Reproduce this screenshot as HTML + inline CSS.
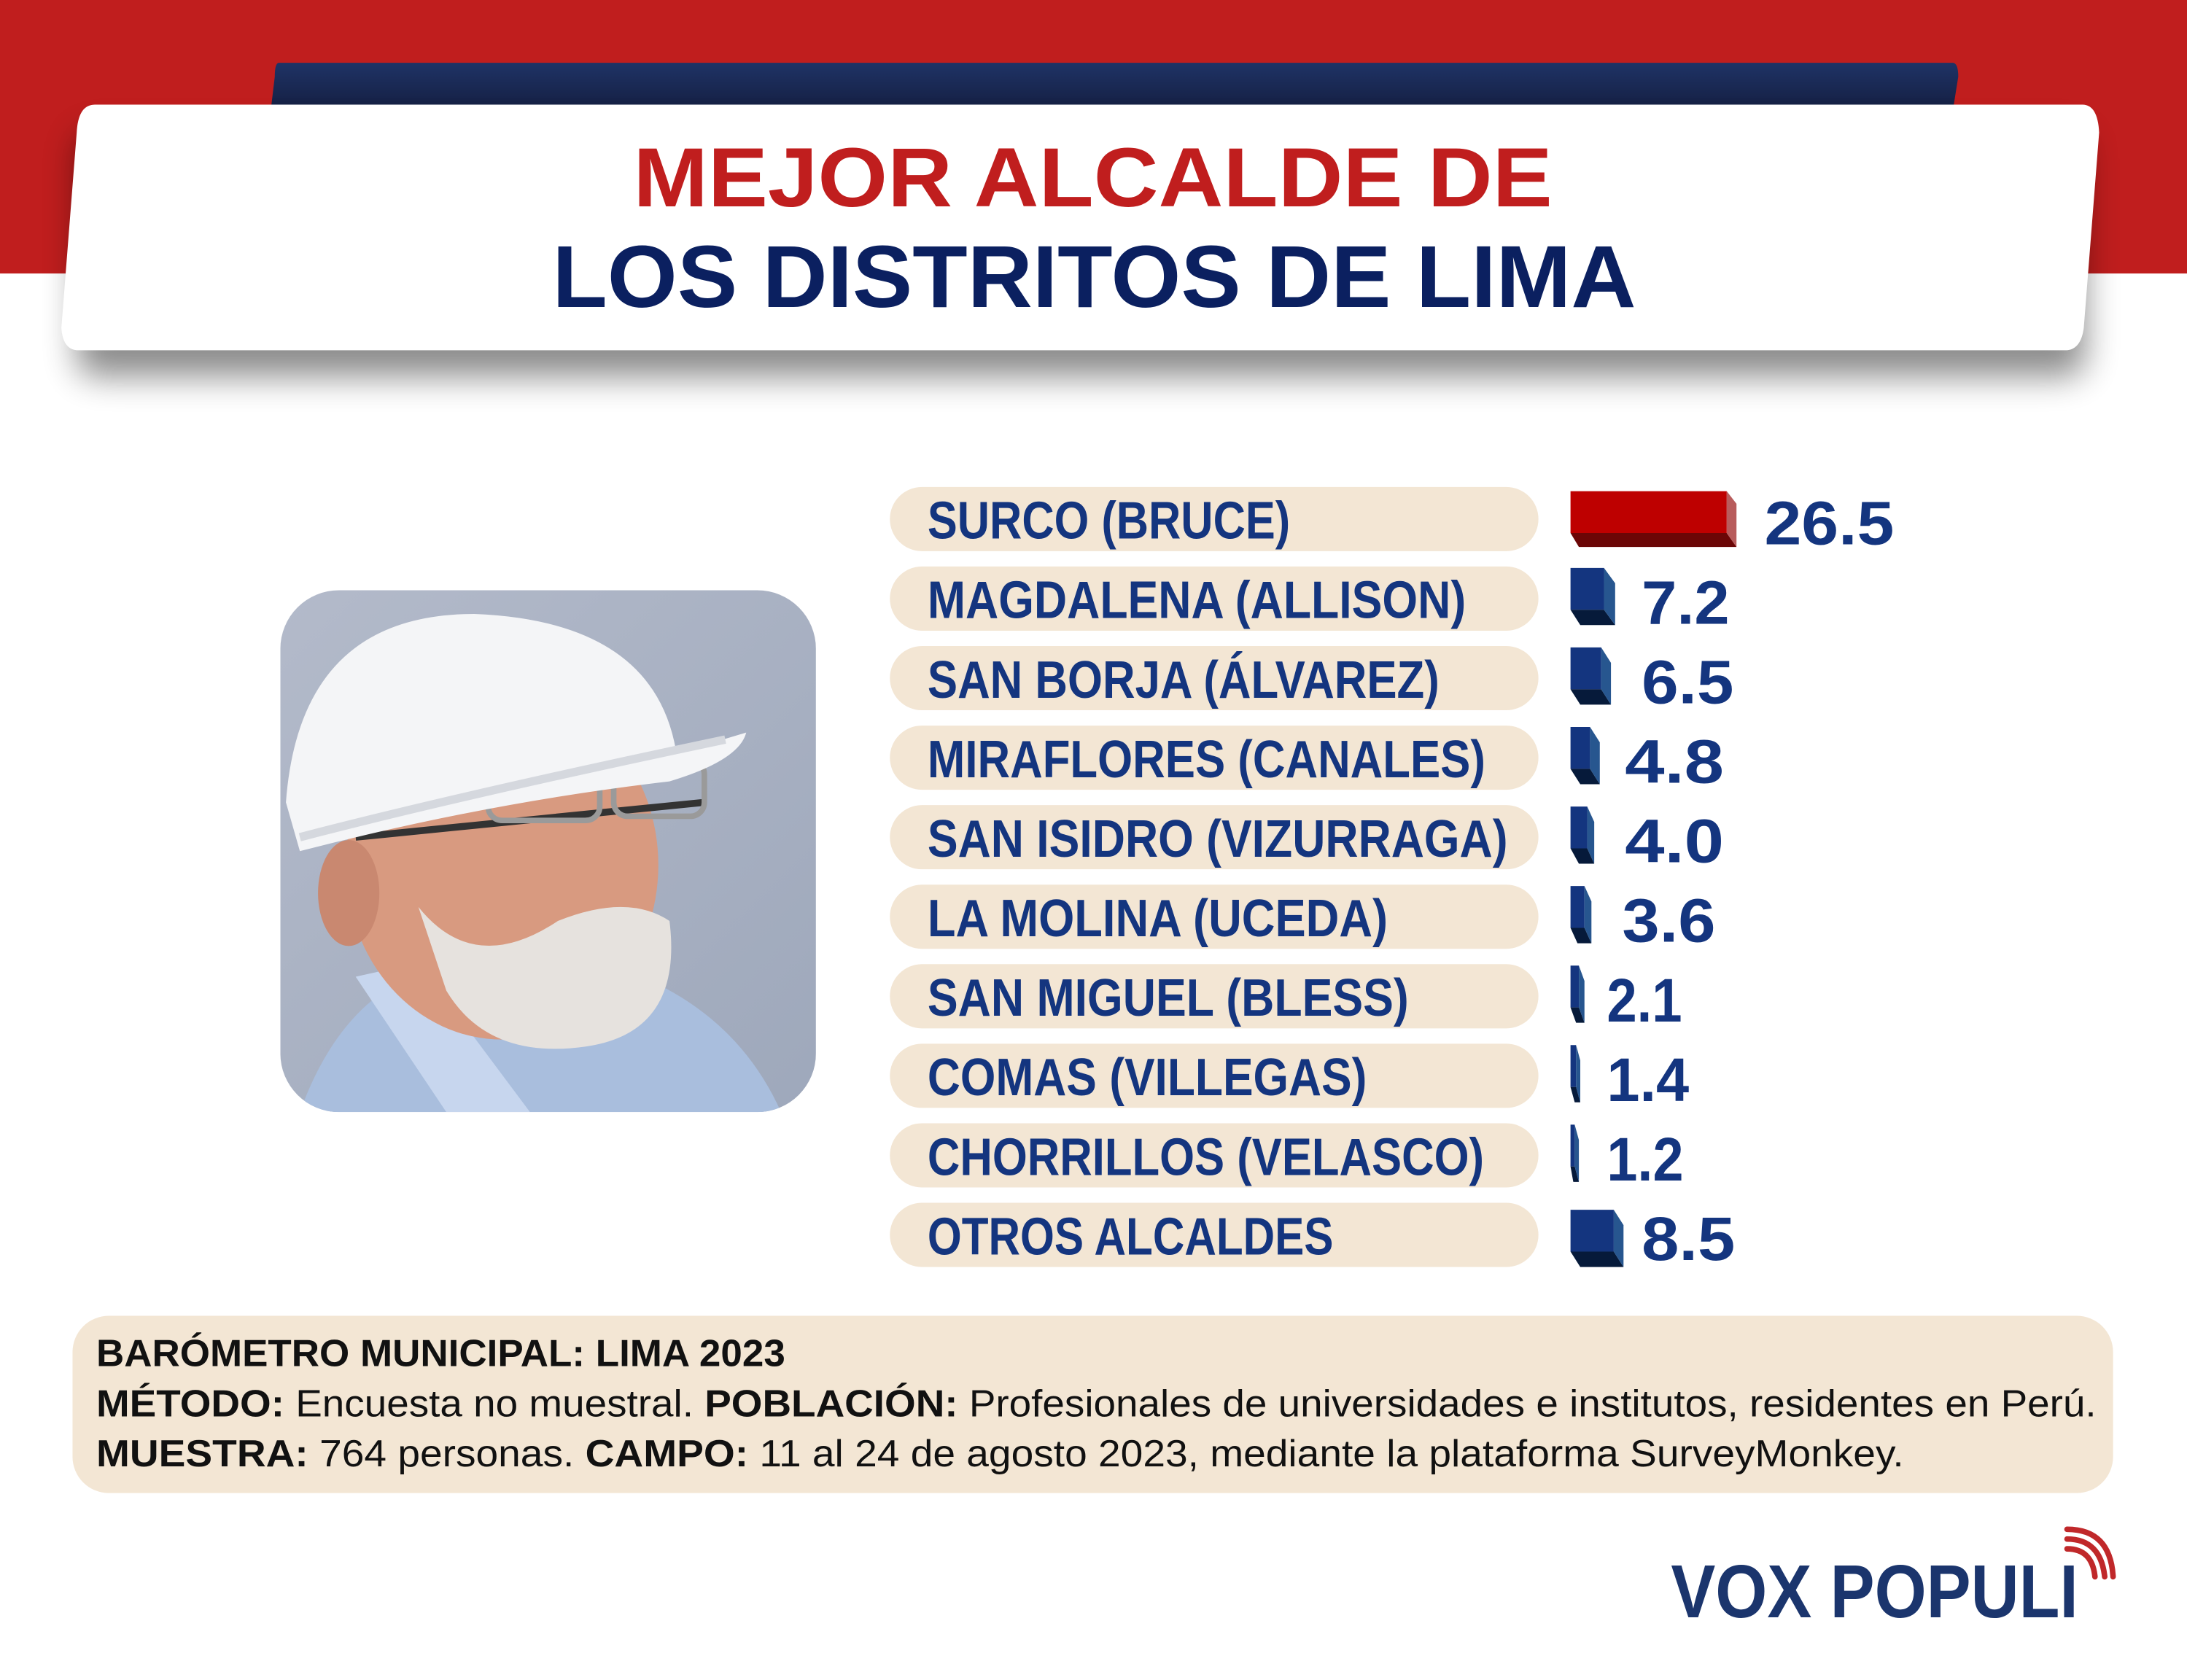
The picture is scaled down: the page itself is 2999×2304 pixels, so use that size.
<!DOCTYPE html>
<html><head><meta charset="utf-8"><style>
html,body{margin:0;padding:0;background:#fff;}
svg{display:block;}
</style></head><body>
<svg width="2999" height="2304" viewBox="0 0 1568 1204" preserveAspectRatio="none" xmlns="http://www.w3.org/2000/svg">
<defs>
<filter id="sh" x="-10%" y="-30%" width="120%" height="180%"><feGaussianBlur stdDeviation="12"/></filter>
<linearGradient id="bg" x1="0" y1="0" x2="1" y2="1"><stop offset="0" stop-color="#B3BACA"/><stop offset="1" stop-color="#9EA8BB"/></linearGradient>
<clipPath id="pc"><rect x="201" y="423" width="384" height="374" rx="42"/></clipPath>
<linearGradient id="tab" x1="0" y1="0" x2="0" y2="1"><stop offset="0" stop-color="#1F3366"/><stop offset="1" stop-color="#141E40"/></linearGradient>
</defs>
<rect width="1568" height="1204" fill="#fff"/>
<rect width="1568" height="196" fill="#C01E1E"/>
<!-- navy tab -->
<path d="M200 45 H1400 Q1404 45 1404 55 L1400 80 H194 L197 55 Q197 45 200 45Z" fill="url(#tab)"/>
<!-- shadow -->
<rect x="55" y="95" width="1440" height="175" rx="14" fill="#000" opacity="0.45" filter="url(#sh)"/>
<!-- white card -->
<path d="M68 75 H1493 Q1504 75 1505 95 L1494 235 Q1492 250 1482 251 H55 Q45 250 44 235 L55 95 Q56 75 68 75Z" fill="#fff"/>
<text x="454" y="148" font-family="Liberation Sans, sans-serif" font-weight="bold" font-size="60" fill="#C01E1E" textLength="659" lengthAdjust="spacingAndGlyphs">MEJOR ALCALDE DE</text>
<text x="396" y="220" font-family="Liberation Sans, sans-serif" font-weight="bold" font-size="63" fill="#0B2060" textLength="777" lengthAdjust="spacingAndGlyphs">LOS DISTRITOS DE LIMA</text>

<!-- photo -->
<g clip-path="url(#pc)">
<rect x="201" y="423" width="384" height="374" fill="url(#bg)"/>
<path d="M215 797 Q250 700 330 690 L460 700 Q530 730 560 797Z" fill="#A9BEDD"/>
<path d="M255 700 L320 797 L380 797 L300 690Z" fill="#C7D6EE"/>
<ellipse cx="360" cy="620" rx="112" ry="125" fill="#D89A80"/>
<ellipse cx="250" cy="640" rx="22" ry="38" fill="#C98870"/>
<path d="M300 650 Q340 700 400 660 Q450 640 480 660 Q490 740 420 750 Q350 760 320 710Z" fill="#E6E2DE"/>
<path d="M255 600 L505 575" stroke="#333" stroke-width="5"/>
<rect x="350" y="548" width="80" height="40" rx="10" fill="none" stroke="#9a9a9a" stroke-width="4"/>
<rect x="440" y="545" width="65" height="40" rx="10" fill="none" stroke="#9a9a9a" stroke-width="4"/>
<path d="M205 575 Q215 440 340 440 Q470 445 485 540 L535 525 Q530 545 480 560 Q350 575 215 610Z" fill="#F4F5F7"/>
<path d="M215 600 Q330 570 520 530" stroke="#D5D8DE" stroke-width="6" fill="none"/>
</g>

<!-- rows -->
<g font-family="Liberation Sans Narrow, Liberation Sans, sans-serif" font-weight="bold" font-size="38" fill="#14357F">
<rect x="638" y="349" width="465" height="46" rx="23" fill="#F3E6D4"/>
<text x="665" y="386" textLength="260" lengthAdjust="spacingAndGlyphs">SURCO (BRUCE)</text>
<rect x="638" y="406" width="465" height="46" rx="23" fill="#F3E6D4"/>
<text x="665" y="443" textLength="386" lengthAdjust="spacingAndGlyphs">MAGDALENA (ALLISON)</text>
<rect x="638" y="463" width="465" height="46" rx="23" fill="#F3E6D4"/>
<text x="665" y="500" textLength="367" lengthAdjust="spacingAndGlyphs">SAN BORJA (ÁLVAREZ)</text>
<rect x="638" y="520" width="465" height="46" rx="23" fill="#F3E6D4"/>
<text x="665" y="557" textLength="400" lengthAdjust="spacingAndGlyphs">MIRAFLORES (CANALES)</text>
<rect x="638" y="577" width="465" height="46" rx="23" fill="#F3E6D4"/>
<text x="665" y="614" textLength="416" lengthAdjust="spacingAndGlyphs">SAN ISIDRO (VIZURRAGA)</text>
<rect x="638" y="634" width="465" height="46" rx="23" fill="#F3E6D4"/>
<text x="665" y="671" textLength="330" lengthAdjust="spacingAndGlyphs">LA MOLINA (UCEDA)</text>
<rect x="638" y="691" width="465" height="46" rx="23" fill="#F3E6D4"/>
<text x="665" y="728" textLength="345" lengthAdjust="spacingAndGlyphs">SAN MIGUEL (BLESS)</text>
<rect x="638" y="748" width="465" height="46" rx="23" fill="#F3E6D4"/>
<text x="665" y="785" textLength="315" lengthAdjust="spacingAndGlyphs">COMAS (VILLEGAS)</text>
<rect x="638" y="805" width="465" height="46" rx="23" fill="#F3E6D4"/>
<text x="665" y="842" textLength="399" lengthAdjust="spacingAndGlyphs">CHORRILLOS (VELASCO)</text>
<rect x="638" y="862" width="465" height="46" rx="23" fill="#F3E6D4"/>
<text x="665" y="899" textLength="291" lengthAdjust="spacingAndGlyphs">OTROS ALCALDES</text>
</g>

<!-- bars -->
<g>
<polygon points="1126,352 1238,352 1238,382 1126,382" fill="#BE0000"/>
<polygon points="1126,382 1238,382 1245,392 1132,392" fill="#6B0606"/>
<polygon points="1238,352 1245,361 1245,392 1238,382" fill="#B85C5C"/>

<polygon points="1126,407 1150,407 1150,437 1126,437" fill="#14357F"/>
<polygon points="1126,437 1150,437 1158,448 1133,448" fill="#061A3A"/>
<polygon points="1150,407 1158,418 1158,448 1150,437" fill="#27568F"/>

<polygon points="1126,464 1148,464 1148,494 1126,494" fill="#14357F"/>
<polygon points="1126,494 1148,494 1155,505 1133,505" fill="#061A3A"/>
<polygon points="1148,464 1155,475 1155,505 1148,494" fill="#27568F"/>

<polygon points="1126,521 1140,521 1140,551 1126,551" fill="#14357F"/>
<polygon points="1126,551 1140,551 1147,562 1133,562" fill="#061A3A"/>
<polygon points="1140,521 1147,532 1147,562 1140,551" fill="#27568F"/>

<polygon points="1126,578 1138,578 1138,608 1126,608" fill="#14357F"/>
<polygon points="1126,608 1138,608 1143,619 1132,619" fill="#061A3A"/>
<polygon points="1138,578 1143,589 1143,619 1138,608" fill="#27568F"/>

<polygon points="1126,635 1136,635 1136,665 1126,665" fill="#14357F"/>
<polygon points="1126,665 1136,665 1141,676 1131,676" fill="#061A3A"/>
<polygon points="1136,635 1141,646 1141,676 1136,665" fill="#27568F"/>

<polygon points="1126,692 1132,692 1132,722 1126,722" fill="#14357F"/>
<polygon points="1126,722 1132,722 1136,733 1130,733" fill="#061A3A"/>
<polygon points="1132,692 1136,703 1136,733 1132,722" fill="#27568F"/>

<polygon points="1126,749 1130,749 1130,779 1126,779" fill="#14357F"/>
<polygon points="1126,779 1130,779 1133,790 1129,790" fill="#061A3A"/>
<polygon points="1130,749 1133,760 1133,790 1130,779" fill="#27568F"/>

<polygon points="1126,806 1129,806 1129,836 1126,836" fill="#14357F"/>
<polygon points="1126,836 1129,836 1132,847 1128,847" fill="#061A3A"/>
<polygon points="1129,806 1132,817 1132,847 1129,836" fill="#27568F"/>

<polygon points="1126,867 1157,867 1157,897 1126,897" fill="#14357F"/>
<polygon points="1126,897 1157,897 1164,908 1133,908" fill="#061A3A"/>
<polygon points="1157,867 1164,878 1164,908 1157,897" fill="#27568F"/>
</g>

<!-- numbers -->
<g font-family="Liberation Sans, sans-serif" font-weight="bold" font-size="44" fill="#14357F">
<text x="1265" y="390" textLength="93" lengthAdjust="spacingAndGlyphs">26.5</text>
<text x="1177" y="447" textLength="63" lengthAdjust="spacingAndGlyphs">7.2</text>
<text x="1177" y="504" textLength="66" lengthAdjust="spacingAndGlyphs">6.5</text>
<text x="1165" y="561" textLength="71" lengthAdjust="spacingAndGlyphs">4.8</text>
<text x="1165" y="618" textLength="71" lengthAdjust="spacingAndGlyphs">4.0</text>
<text x="1163" y="675" textLength="67" lengthAdjust="spacingAndGlyphs">3.6</text>
<text x="1152" y="732" textLength="54" lengthAdjust="spacingAndGlyphs">2.1</text>
<text x="1152" y="789" textLength="59" lengthAdjust="spacingAndGlyphs">1.4</text>
<text x="1152" y="846" textLength="55" lengthAdjust="spacingAndGlyphs">1.2</text>
<text x="1177" y="903" textLength="67" lengthAdjust="spacingAndGlyphs">8.5</text>
</g>

<!-- footer -->
<rect x="52" y="943" width="1463" height="127" rx="26" fill="#F3E6D4"/>
<g font-family="Liberation Sans, sans-serif" font-size="27" fill="#111">
<text x="69" y="979" font-weight="bold" textLength="494" lengthAdjust="spacingAndGlyphs">BARÓMETRO MUNICIPAL: LIMA 2023</text>
<text x="69" y="1015" textLength="1434" lengthAdjust="spacingAndGlyphs"><tspan font-weight="bold">MÉTODO:</tspan> Encuesta no muestral. <tspan font-weight="bold">POBLACIÓN:</tspan> Profesionales de universidades e institutos, residentes en Perú.</text>
<text x="69" y="1051" textLength="1296" lengthAdjust="spacingAndGlyphs"><tspan font-weight="bold">MUESTRA:</tspan> 764 personas. <tspan font-weight="bold">CAMPO:</tspan> 11 al 24 de agosto 2023, mediante la plataforma SurveyMonkey.</text>
</g>

<!-- logo -->
<text x="1198" y="1159" font-family="Liberation Sans, sans-serif" font-weight="bold" font-size="54" fill="#1B356D" textLength="292" lengthAdjust="spacingAndGlyphs">VOX POPULI</text>
<g fill="none" stroke="#C0282A" stroke-width="4" stroke-linecap="round">
<path d="M1482 1110 Q1500 1110 1502 1130"/>
<path d="M1482 1103 Q1506 1103 1509 1130"/>
<path d="M1482 1096 Q1513 1096 1515 1130"/>
</g>
</svg>
</body></html>
